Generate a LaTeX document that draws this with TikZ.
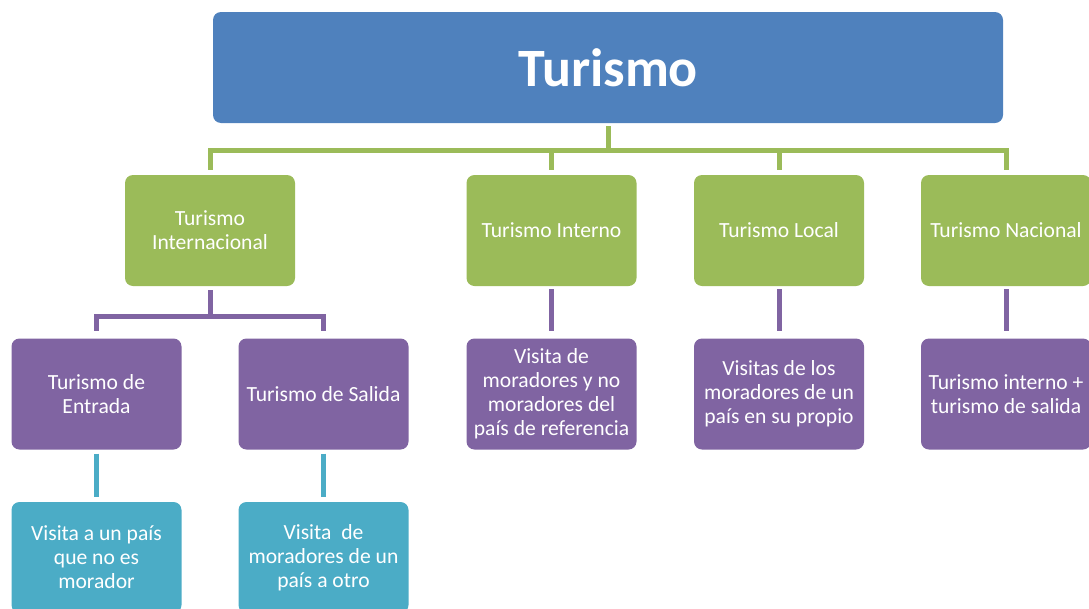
\documentclass[tikz,border=0pt]{standalone}
\usepackage{fontspec}
\setmainfont{Carlito}
\usepackage{tikz}
\usetikzlibrary{positioning}
\usepackage{xcolor}
\definecolor{turblue}{HTML}{4F81BD}
\definecolor{turgreen}{HTML}{9BBB59}
\definecolor{turpurple}{HTML}{8064A2}
\definecolor{turteal}{HTML}{4BACC6}

\tikzset{
	tbox/.style={rounded corners=8pt, minimum width=170pt, minimum height=111pt,
		inner sep=0pt, text=white, align=center, font=\fontsize{21.6}{24}\selectfont},
	tlink/.style={line width=5pt}
}

\begin{document}
\begin{tikzpicture}[x=1pt,y=-1pt]
			\useasboundingbox (0,0) rectangle (1089,608);
			\clip (0,0) rectangle (1089,608);
			% top level
			\node[tbox, fill=turblue, minimum width=790pt, font=\fontsize{54}{60}\selectfont\bfseries] (top) at (608,67.5) {Turismo};
			% second level
			\node[tbox, fill=turgreen] (inter) at (210,230.5) {Turismo\\Internacional};
			\node[tbox, fill=turgreen] (interno) at (551.5,230.5) {Turismo Interno};
			\node[tbox, fill=turgreen] (local) at (779,230.5) {Turismo Local};
			\node[tbox, fill=turgreen] (nacional) at (1006,230.5) {Turismo Nacional};
			% third level
			\node[tbox, fill=turpurple] (entrada) at (96.5,394) {Turismo de\\Entrada};
			\node[tbox, fill=turpurple] (salida) at (323.5,394) {Turismo de Salida};
			\node[tbox, fill=turpurple] (dinterno) at (551.5,394) {Visita de\\moradores y no\\moradores del\\país de referencia};
			\node[tbox, fill=turpurple] (dlocal) at (779,394) {Visitas de los\\moradores de un\\país en su propio};
			\node[tbox, fill=turpurple] (dnacional) at (1006,394) {Turismo interno +\\turismo de salida};
			% fourth level
			\node[tbox, fill=turteal] (dentrada) at (96.5,557.5) {Visita a un país\\que no es\\morador};
			\node[tbox, fill=turteal] (dsalida) at (323.5,557.5) {Visita~ de\\moradores de un\\país a otro};

			% connectors
			\foreach \n in {inter, interno, local, nacional}
			\draw[tlink, turgreen, shorten <=3pt, shorten >=5pt] (top.south) -- ++(0,27) -| (\n.north);
			\foreach \n in {entrada, salida}
			\draw[tlink, turpurple, shorten <=4pt, shorten >=7pt] (inter.south) -- ++(0,30) -| (\n.north);
			\foreach \a/\b in {interno/dinterno, local/dlocal, nacional/dnacional}
			\draw[tlink, turpurple, shorten <=3pt, shorten >=7pt] (\a.south) -- (\b.north);
			\foreach \a/\b in {entrada/dentrada, salida/dsalida}
			\draw[tlink, turteal, shorten <=4pt, shorten >=5pt] (\a.south) -- (\b.north);
		\end{tikzpicture}
\end{document}
